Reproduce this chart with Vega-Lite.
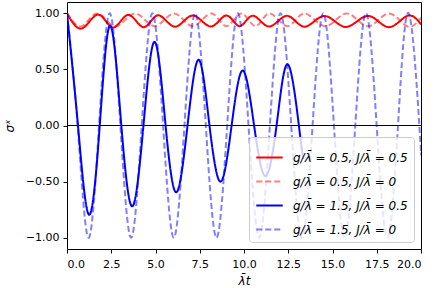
{
  "$schema": "https://vega.github.io/schema/vega-lite/v6.json",
  "width": 354,
  "height": 247,
  "autosize": {"type": "none"},
  "padding": {"left": 67, "top": 2, "right": 15, "bottom": 39},
  "config": {
    "font": "DejaVu Sans",
    "view": {"stroke": "#000000", "strokeWidth": 1},
    "axis": {
      "grid": false, "domain": false,
      "tickColor": "#000000", "tickSize": 4, "tickWidth": 1,
      "labelColor": "#000000", "labelFontSize": 11, "labelFont": "DejaVu Sans",
      "titleColor": "#000000", "titleFontWeight": "normal", "titleFontSize": 12, "titleFont": "DejaVu Sans"
    }
  },
  "datasets": {
    "curves": [
      {"t": 0, "v": 1.0, "s": "g/λ̄ = 0.5, J/λ̄ = 0.5"},
      {"t": 0.85, "v": 0.865, "s": "g/λ̄ = 0.5, J/λ̄ = 0.5"},
      {"t": 1.77, "v": 0.988, "s": "g/λ̄ = 0.5, J/λ̄ = 0.5"},
      {"t": 2.6, "v": 0.872, "s": "g/λ̄ = 0.5, J/λ̄ = 0.5"},
      {"t": 3.46, "v": 0.985, "s": "g/λ̄ = 0.5, J/λ̄ = 0.5"},
      {"t": 4.33, "v": 0.876, "s": "g/λ̄ = 0.5, J/λ̄ = 0.5"},
      {"t": 5.15, "v": 0.982, "s": "g/λ̄ = 0.5, J/λ̄ = 0.5"},
      {"t": 6.1, "v": 0.88, "s": "g/λ̄ = 0.5, J/λ̄ = 0.5"},
      {"t": 7.1, "v": 0.98, "s": "g/λ̄ = 0.5, J/λ̄ = 0.5"},
      {"t": 8.12, "v": 0.882, "s": "g/λ̄ = 0.5, J/λ̄ = 0.5"},
      {"t": 9.0, "v": 0.98, "s": "g/λ̄ = 0.5, J/λ̄ = 0.5"},
      {"t": 9.75, "v": 0.885, "s": "g/λ̄ = 0.5, J/λ̄ = 0.5"},
      {"t": 10.5, "v": 0.978, "s": "g/λ̄ = 0.5, J/λ̄ = 0.5"},
      {"t": 11.42, "v": 0.882, "s": "g/λ̄ = 0.5, J/λ̄ = 0.5"},
      {"t": 12.43, "v": 0.977, "s": "g/λ̄ = 0.5, J/λ̄ = 0.5"},
      {"t": 13.42, "v": 0.88, "s": "g/λ̄ = 0.5, J/λ̄ = 0.5"},
      {"t": 14.55, "v": 0.976, "s": "g/λ̄ = 0.5, J/λ̄ = 0.5"},
      {"t": 15.75, "v": 0.878, "s": "g/λ̄ = 0.5, J/λ̄ = 0.5"},
      {"t": 17.0, "v": 0.976, "s": "g/λ̄ = 0.5, J/λ̄ = 0.5"},
      {"t": 18.15, "v": 0.876, "s": "g/λ̄ = 0.5, J/λ̄ = 0.5"},
      {"t": 19.22, "v": 0.976, "s": "g/λ̄ = 0.5, J/λ̄ = 0.5"},
      {"t": 20, "v": 0.9, "s": "g/λ̄ = 0.5, J/λ̄ = 0.5"},

      {"t": 0, "v": 1.0, "s": "g/λ̄ = 0.5, J/λ̄ = 0"},
      {"t": 0.85, "v": 0.885, "s": "g/λ̄ = 0.5, J/λ̄ = 0"},
      {"t": 1.72, "v": 0.998, "s": "g/λ̄ = 0.5, J/λ̄ = 0"},
      {"t": 2.75, "v": 0.885, "s": "g/λ̄ = 0.5, J/λ̄ = 0"},
      {"t": 3.85, "v": 0.998, "s": "g/λ̄ = 0.5, J/λ̄ = 0"},
      {"t": 4.95, "v": 0.885, "s": "g/λ̄ = 0.5, J/λ̄ = 0"},
      {"t": 6.05, "v": 0.998, "s": "g/λ̄ = 0.5, J/λ̄ = 0"},
      {"t": 7.1, "v": 0.885, "s": "g/λ̄ = 0.5, J/λ̄ = 0"},
      {"t": 8.15, "v": 0.998, "s": "g/λ̄ = 0.5, J/λ̄ = 0"},
      {"t": 9.0, "v": 0.885, "s": "g/λ̄ = 0.5, J/λ̄ = 0"},
      {"t": 9.85, "v": 0.998, "s": "g/λ̄ = 0.5, J/λ̄ = 0"},
      {"t": 10.65, "v": 0.885, "s": "g/λ̄ = 0.5, J/λ̄ = 0"},
      {"t": 11.45, "v": 0.998, "s": "g/λ̄ = 0.5, J/λ̄ = 0"},
      {"t": 12.45, "v": 0.885, "s": "g/λ̄ = 0.5, J/λ̄ = 0"},
      {"t": 13.42, "v": 0.998, "s": "g/λ̄ = 0.5, J/λ̄ = 0"},
      {"t": 14.6, "v": 0.885, "s": "g/λ̄ = 0.5, J/λ̄ = 0"},
      {"t": 15.8, "v": 0.998, "s": "g/λ̄ = 0.5, J/λ̄ = 0"},
      {"t": 17.0, "v": 0.885, "s": "g/λ̄ = 0.5, J/λ̄ = 0"},
      {"t": 18.15, "v": 0.998, "s": "g/λ̄ = 0.5, J/λ̄ = 0"},
      {"t": 19.2, "v": 0.885, "s": "g/λ̄ = 0.5, J/λ̄ = 0"},
      {"t": 20, "v": 0.96, "s": "g/λ̄ = 0.5, J/λ̄ = 0"},

      {"t": 0, "v": 1.0, "s": "g/λ̄ = 1.5, J/λ̄ = 0.5"},
      {"t": 0.62, "v": 0, "s": "g/λ̄ = 1.5, J/λ̄ = 0.5"},
      {"t": 1.245, "v": -0.795, "s": "g/λ̄ = 1.5, J/λ̄ = 0.5"},
      {"t": 1.85, "v": 0, "s": "g/λ̄ = 1.5, J/λ̄ = 0.5"},
      {"t": 2.44, "v": 0.89, "s": "g/λ̄ = 1.5, J/λ̄ = 0.5"},
      {"t": 3.07, "v": 0, "s": "g/λ̄ = 1.5, J/λ̄ = 0.5"},
      {"t": 3.69, "v": -0.72, "s": "g/λ̄ = 1.5, J/λ̄ = 0.5"},
      {"t": 4.32, "v": 0, "s": "g/λ̄ = 1.5, J/λ̄ = 0.5"},
      {"t": 4.95, "v": 0.745, "s": "g/λ̄ = 1.5, J/λ̄ = 0.5"},
      {"t": 5.57, "v": 0, "s": "g/λ̄ = 1.5, J/λ̄ = 0.5"},
      {"t": 6.18, "v": -0.595, "s": "g/λ̄ = 1.5, J/λ̄ = 0.5"},
      {"t": 6.81, "v": 0, "s": "g/λ̄ = 1.5, J/λ̄ = 0.5"},
      {"t": 7.44, "v": 0.585, "s": "g/λ̄ = 1.5, J/λ̄ = 0.5"},
      {"t": 8.05, "v": 0, "s": "g/λ̄ = 1.5, J/λ̄ = 0.5"},
      {"t": 8.68, "v": -0.5, "s": "g/λ̄ = 1.5, J/λ̄ = 0.5"},
      {"t": 9.3, "v": 0, "s": "g/λ̄ = 1.5, J/λ̄ = 0.5"},
      {"t": 9.93, "v": 0.49, "s": "g/λ̄ = 1.5, J/λ̄ = 0.5"},
      {"t": 10.57, "v": 0, "s": "g/λ̄ = 1.5, J/λ̄ = 0.5"},
      {"t": 11.2, "v": -0.45, "s": "g/λ̄ = 1.5, J/λ̄ = 0.5"},
      {"t": 11.84, "v": 0, "s": "g/λ̄ = 1.5, J/λ̄ = 0.5"},
      {"t": 12.47, "v": 0.545, "s": "g/λ̄ = 1.5, J/λ̄ = 0.5"},
      {"t": 13.1, "v": 0, "s": "g/λ̄ = 1.5, J/λ̄ = 0.5"},
      {"t": 13.35, "v": -0.3, "s": "g/λ̄ = 1.5, J/λ̄ = 0.5"},

      {"t": 0, "v": 1, "s": "g/λ̄ = 1.5, J/λ̄ = 0"},
      {"t": 0.603, "v": 0, "s": "g/λ̄ = 1.5, J/λ̄ = 0"},
      {"t": 1.207, "v": -1, "s": "g/λ̄ = 1.5, J/λ̄ = 0"},
      {"t": 1.81, "v": 0, "s": "g/λ̄ = 1.5, J/λ̄ = 0"},
      {"t": 2.413, "v": 1, "s": "g/λ̄ = 1.5, J/λ̄ = 0"},
      {"t": 3.016, "v": 0, "s": "g/λ̄ = 1.5, J/λ̄ = 0"},
      {"t": 3.62, "v": -1, "s": "g/λ̄ = 1.5, J/λ̄ = 0"},
      {"t": 4.223, "v": 0, "s": "g/λ̄ = 1.5, J/λ̄ = 0"},
      {"t": 4.826, "v": 1, "s": "g/λ̄ = 1.5, J/λ̄ = 0"},
      {"t": 5.429, "v": 0, "s": "g/λ̄ = 1.5, J/λ̄ = 0"},
      {"t": 6.033, "v": -1, "s": "g/λ̄ = 1.5, J/λ̄ = 0"},
      {"t": 6.636, "v": 0, "s": "g/λ̄ = 1.5, J/λ̄ = 0"},
      {"t": 7.239, "v": 1, "s": "g/λ̄ = 1.5, J/λ̄ = 0"},
      {"t": 7.842, "v": 0, "s": "g/λ̄ = 1.5, J/λ̄ = 0"},
      {"t": 8.446, "v": -1, "s": "g/λ̄ = 1.5, J/λ̄ = 0"},
      {"t": 9.049, "v": 0, "s": "g/λ̄ = 1.5, J/λ̄ = 0"},
      {"t": 9.652, "v": 1, "s": "g/λ̄ = 1.5, J/λ̄ = 0"},
      {"t": 10.255, "v": 0, "s": "g/λ̄ = 1.5, J/λ̄ = 0"},
      {"t": 10.859, "v": -1, "s": "g/λ̄ = 1.5, J/λ̄ = 0"},
      {"t": 11.462, "v": 0, "s": "g/λ̄ = 1.5, J/λ̄ = 0"},
      {"t": 12.065, "v": 1, "s": "g/λ̄ = 1.5, J/λ̄ = 0"},
      {"t": 12.668, "v": 0, "s": "g/λ̄ = 1.5, J/λ̄ = 0"},
      {"t": 13.272, "v": -1, "s": "g/λ̄ = 1.5, J/λ̄ = 0"},
      {"t": 13.875, "v": 0, "s": "g/λ̄ = 1.5, J/λ̄ = 0"},
      {"t": 14.478, "v": 1, "s": "g/λ̄ = 1.5, J/λ̄ = 0"},
      {"t": 15.081, "v": 0, "s": "g/λ̄ = 1.5, J/λ̄ = 0"},
      {"t": 15.685, "v": -1, "s": "g/λ̄ = 1.5, J/λ̄ = 0"},
      {"t": 16.288, "v": 0, "s": "g/λ̄ = 1.5, J/λ̄ = 0"},
      {"t": 16.891, "v": 1, "s": "g/λ̄ = 1.5, J/λ̄ = 0"},
      {"t": 17.494, "v": 0, "s": "g/λ̄ = 1.5, J/λ̄ = 0"},
      {"t": 18.098, "v": -1, "s": "g/λ̄ = 1.5, J/λ̄ = 0"},
      {"t": 18.701, "v": 0, "s": "g/λ̄ = 1.5, J/λ̄ = 0"},
      {"t": 19.304, "v": 1, "s": "g/λ̄ = 1.5, J/λ̄ = 0"},
      {"t": 19.907, "v": 0, "s": "g/λ̄ = 1.5, J/λ̄ = 0"},
      {"t": 20.0, "v": -0.24, "s": "g/λ̄ = 1.5, J/λ̄ = 0"}
    ]
  },
  "layer": [
    {
      "data": {"values": [{"y": 0}]},
      "mark": {"type": "rule", "color": "#000000", "strokeWidth": 1},
      "encoding": {"y": {"field": "y", "type": "quantitative"}}
    },
    {
      "data": {"name": "curves"},
      "mark": {"type": "line", "interpolate": "natural", "strokeWidth": 2, "clip": true},
      "encoding": {
        "x": {
          "field": "t", "type": "quantitative",
          "scale": {"domain": [0, 20], "nice": false, "zero": false},
          "axis": {"values": [0, 2.5, 5, 7.5, 10, 12.5, 15, 17.5, 20], "format": ".1f", "title": "λ̄t", "titleFontStyle": "italic", "labelPadding": 5, "titlePadding": 6}
        },
        "y": {
          "field": "v", "type": "quantitative",
          "scale": {"domain": [-1.1, 1.1], "nice": false, "zero": false},
          "axis": {"values": [-1, -0.75, -0.5, -0.25, 0, 0.25, 0.5, 0.75, 1], "format": ".2f", "title": "σˣ", "titleFontStyle": "italic", "labelPadding": 4, "titlePadding": 9}
        },
        "color": {
          "field": "s", "type": "nominal",
          "scale": {
            "domain": ["g/λ̄ = 0.5, J/λ̄ = 0.5", "g/λ̄ = 0.5, J/λ̄ = 0", "g/λ̄ = 1.5, J/λ̄ = 0.5", "g/λ̄ = 1.5, J/λ̄ = 0"],
            "range": ["#ff0000", "rgba(255,0,0,0.5)", "#0000ff", "rgba(0,0,255,0.5)"]
          },
          "legend": {
            "title": null, "orient": "bottom-right", "offset": 7,
            "fillColor": "rgba(255,255,255,0.8)", "strokeColor": "#cccccc", "cornerRadius": 3,
            "padding": 6, "symbolType": "stroke", "symbolSize": 700, "symbolStrokeWidth": 2,
            "labelFontSize": 12, "labelFont": "DejaVu Sans", "labelFontStyle": "italic", "labelColor": "#000000",
            "labelOffset": 9, "rowPadding": 3, "labelLimit": 300
          }
        },
        "strokeDash": {
          "field": "s", "type": "nominal",
          "scale": {
            "domain": ["g/λ̄ = 0.5, J/λ̄ = 0.5", "g/λ̄ = 0.5, J/λ̄ = 0", "g/λ̄ = 1.5, J/λ̄ = 0.5", "g/λ̄ = 1.5, J/λ̄ = 0"],
            "range": [[1, 0], [6, 3], [1, 0], [6, 3]]
          }
        }
      }
    }
  ]
}
